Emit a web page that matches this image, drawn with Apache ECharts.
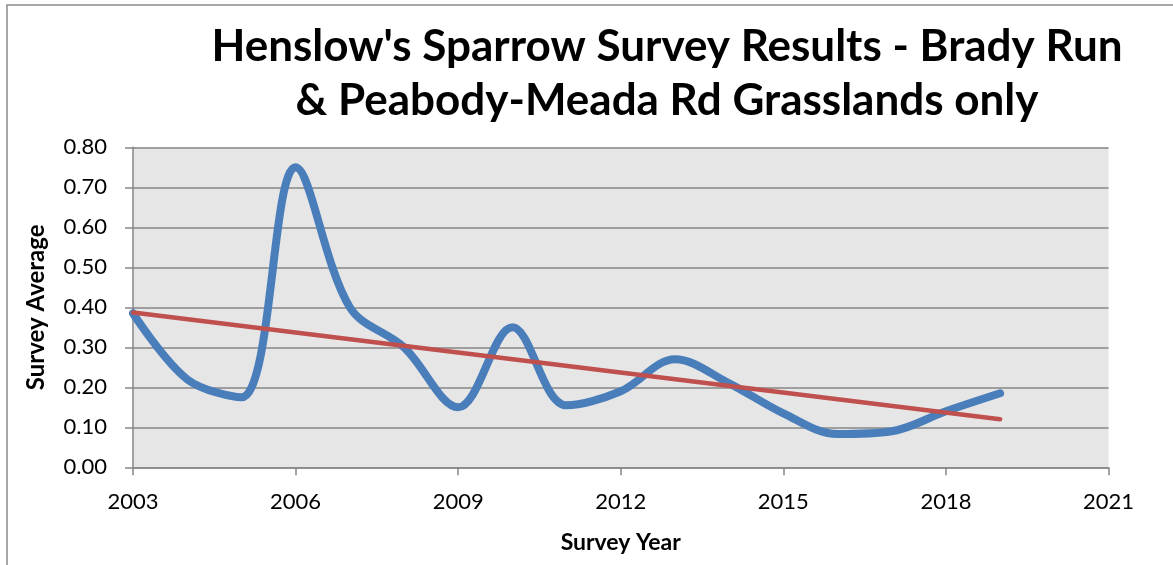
<!DOCTYPE html>
<html>
<head>
<meta charset="utf-8">
<script src="https://cdn.jsdelivr.net/npm/echarts@6/dist/echarts.min.js"></script>
<style>
  html, body { margin: 0; padding: 0; background: #ffffff; }
  #chart { width: 1173px; height: 565px; }
</style>
</head>
<body>
<div id="chart"></div>
<script>
// ---- data ----
const titleLines = ["Henslow's Sparrow Survey Results - Brady Run", "& Peabody-Meada Rd Grasslands only"];
const yAxisTitle = "Survey Average";
const xAxisTitle = "Survey Year";
const baseYear = 2003;
const xTickLabels = [2003, 2006, 2009, 2012, 2015, 2018, 2021];
const yTickLabels = ["0.00", "0.10", "0.20", "0.30", "0.40", "0.50", "0.60", "0.70", "0.80"];
const years = [2003, 2004, 2005, 2006, 2007, 2008, 2009, 2010, 2011, 2012, 2013, 2014, 2015, 2016, 2017, 2018, 2019];
const surveyAverage = [0.385, 0.22, 0.175, 0.75, 0.40, 0.30, 0.15, 0.35, 0.155, 0.19, 0.27, 0.21, 0.135, 0.083, 0.09, 0.14, 0.185];
const trendYears = [2003, 2019];
const trendValues = [0.387, 0.12];

const FONT = 'Lato';
const chart = echarts.init(document.getElementById('chart'), null, { renderer: 'canvas' });

const mainData = years.map((y, i) => [y - baseYear, surveyAverage[i]]);
const trendData = trendYears.map((y, i) => [y - baseYear, trendValues[i]]);

chart.setOption({
  backgroundColor: '#ffffff',
  animation: false,
  title: {
    text: titleLines.join('\n'),
    left: 667,
    top: 0,
    textAlign: 'center',
    padding: [20, 0, 0, 0],
    textStyle: {
      fontFamily: FONT,
      fontWeight: 'bold',
      fontSize: 44,
      lineHeight: 54,
      color: '#000000'
    }
  },
  graphic: [{
    type: 'rect',
    z: -10,
    shape: { x: 7, y: 5, width: 1250, height: 700 },
    style: { fill: null, stroke: '#8a8a8a', lineWidth: 1.5 },
    silent: true
  }],
  grid: {
    left: 133,
    right: 64.5,
    top: 147.3,
    bottom: 97.7,
    show: true,
    backgroundColor: '#E6E6E6',
    borderWidth: 0
  },
  xAxis: {
    type: 'value',
    min: 0,
    max: 18,
    interval: 3,
    name: xAxisTitle,
    nameLocation: 'middle',
    nameGap: 64,
    nameTextStyle: { fontFamily: FONT, fontWeight: 'bold', fontSize: 23, color: '#000' },
    axisLine: { show: true, lineStyle: { color: '#868686', width: 1.5 } },
    axisTick: { show: true, inside: false, length: 8, lineStyle: { color: '#868686', width: 1.5 } },
    axisLabel: {
      margin: 24,
      fontFamily: FONT, fontSize: 22, color: '#000',
      formatter: v => String(xTickLabels[Math.round(v / 3)])
    },
    splitLine: { show: false }
  },
  yAxis: {
    type: 'value',
    min: 0,
    max: 0.8,
    interval: 0.1,
    name: yAxisTitle,
    nameLocation: 'middle',
    nameGap: 85,
    nameRotate: 90,
    nameTextStyle: { fontFamily: FONT, fontWeight: 'bold', fontSize: 24, color: '#000' },
    axisLine: { show: true, lineStyle: { color: '#868686', width: 1.5 } },
    axisTick: { show: true, inside: false, length: 8, lineStyle: { color: '#868686', width: 1.5 } },
    axisLabel: {
      margin: 26,
      fontFamily: FONT, fontSize: 22, color: '#000',
      formatter: v => yTickLabels[Math.round(v * 10)]
    },
    splitLine: { show: true, lineStyle: { color: '#868686', width: 1.5 } }
  },
  series: [
    {
      type: 'line',
      name: 'Survey Average',
      data: mainData,
      smooth: 0.35,
      symbol: 'none',
      lineStyle: { color: '#4A7EBB', width: 8, cap: 'round', join: 'round' },
      z: 2
    },
    {
      type: 'line',
      name: 'Trend',
      data: trendData,
      symbol: 'none',
      lineStyle: { color: '#C0504D', width: 4.5, cap: 'round' },
      z: 3
    }
  ]
});
</script>
</body>
</html>
